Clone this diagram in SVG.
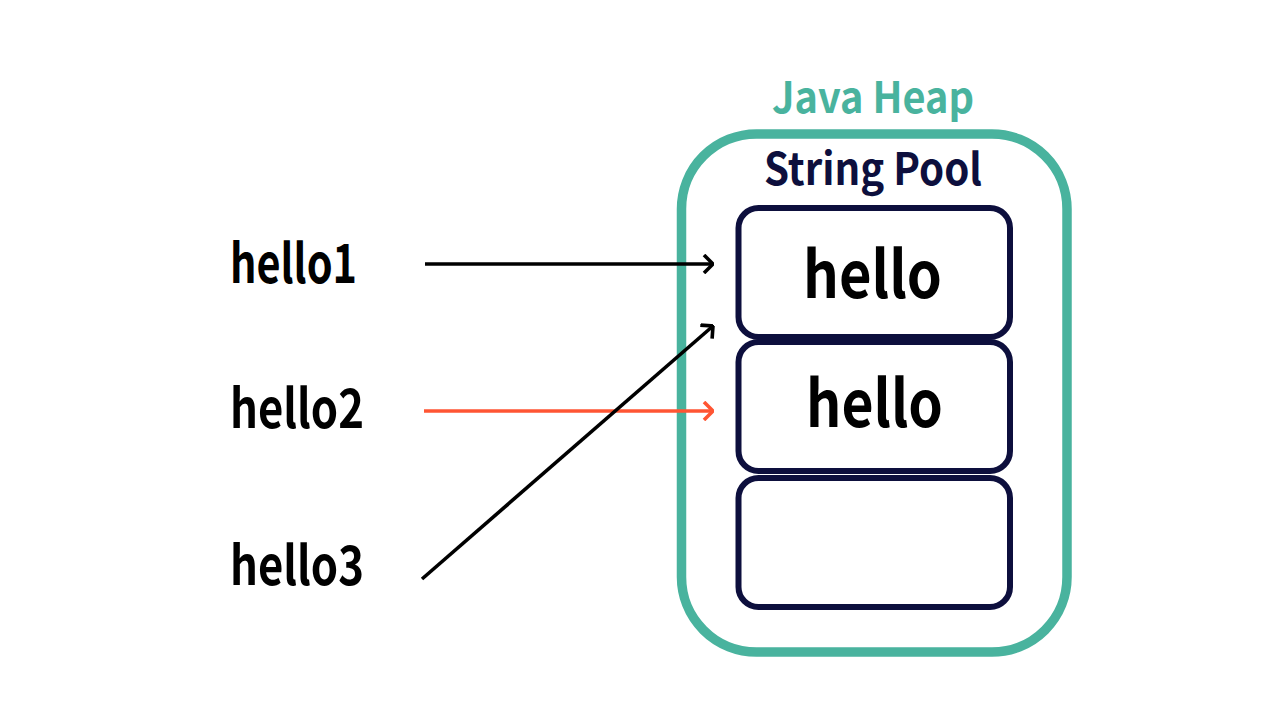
<svg xmlns="http://www.w3.org/2000/svg" width="1280" height="720" viewBox="0 0 1280 720">
<defs>
<style>
text{font-family:"Noto Sans CJK KR","Noto Sans",sans-serif;font-weight:bold}
.lbl{font-size:54px;fill:#000}
.val{font-size:65px;fill:#000}
.slot{fill:#fff;stroke:#0D0F3D;stroke-width:6}
.conn{fill:none;stroke-width:3.6}
</style>
<marker id="ah" viewBox="0 0 12 20" refX="11" refY="10" markerWidth="12" markerHeight="20" markerUnits="userSpaceOnUse" orient="auto">
<path d="M2,1 L11,10 L2,19" fill="none" stroke="#000" stroke-width="3.6"/>
</marker>
<marker id="ahr" viewBox="0 0 12 20" refX="11" refY="10" markerWidth="12" markerHeight="20" markerUnits="userSpaceOnUse" orient="auto">
<path d="M2,1 L11,10 L2,19" fill="none" stroke="#FF5533" stroke-width="3.6"/>
</marker>
</defs>
<rect width="1280" height="720" fill="#fff"/>
<g id="heap">
<rect x="681.5" y="134" width="385.5" height="518" rx="75" fill="#fff" stroke="#49B39E" stroke-width="9.5"/>
<text x="772" y="113" font-size="43" fill="#49B39E" textLength="202" lengthAdjust="spacingAndGlyphs">Java Heap</text>
</g>
<g id="pool">
<text x="764" y="185" font-size="44" fill="#0D0F3D" textLength="218" lengthAdjust="spacingAndGlyphs">String Pool</text>
</g>
<g id="slot1">
<rect class="slot" x="738.5" y="208" width="271.5" height="129" rx="20"/>
<text class="val" x="803" y="298" textLength="139" lengthAdjust="spacingAndGlyphs">hello</text>
</g>
<g id="slot2">
<rect class="slot" x="738.5" y="342" width="271.5" height="129" rx="20"/>
<text class="val" x="806" y="427" textLength="137" lengthAdjust="spacingAndGlyphs">hello</text>
</g>
<g id="slot3">
<rect class="slot" x="738.5" y="478" width="271.5" height="129" rx="20"/>
</g>
<g id="hello1"><text class="lbl" x="230" y="283" textLength="127" lengthAdjust="spacingAndGlyphs">hello1</text></g>
<g id="hello2"><text class="lbl" x="230" y="428" textLength="134" lengthAdjust="spacingAndGlyphs">hello2</text></g>
<g id="hello3"><text class="lbl" x="230" y="585" textLength="134" lengthAdjust="spacingAndGlyphs">hello3</text></g>
<g id="connectors">
<line class="conn" x1="425" y1="264" x2="713" y2="264" stroke="#000" marker-end="url(#ah)"/>
<line class="conn" x1="424" y1="411" x2="713" y2="411" stroke="#FF5533" marker-end="url(#ahr)"/>
<line class="conn" x1="422" y1="579" x2="713" y2="326" stroke="#000" marker-end="url(#ah)"/>
</g>
</svg>
